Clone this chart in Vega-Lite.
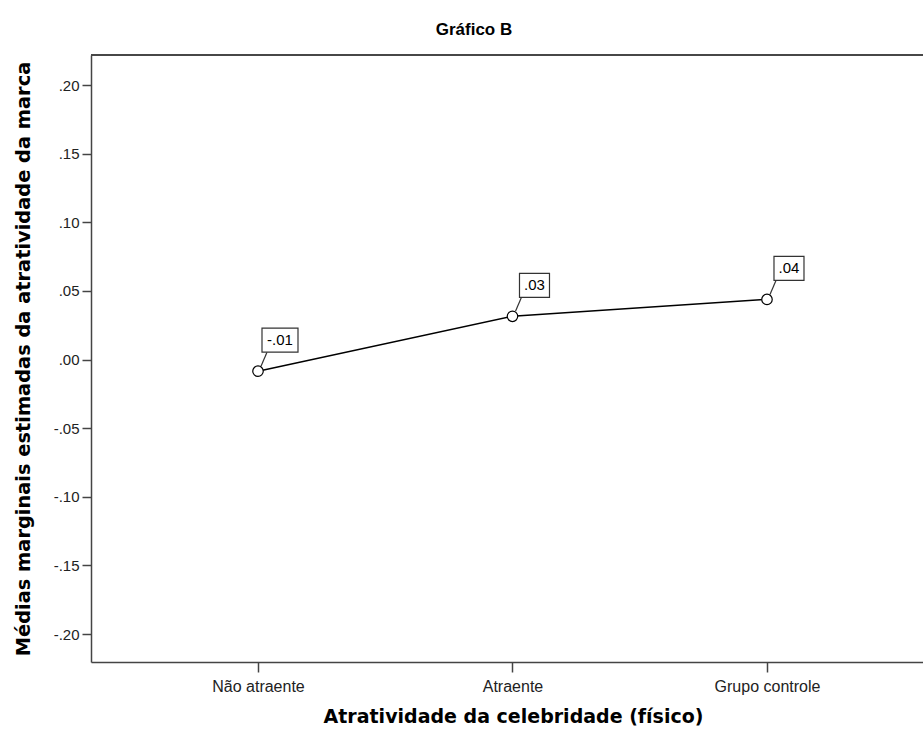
{
  "$schema": "https://vega.github.io/schema/vega-lite/v6.json",
  "autosize": "none",
  "width": 832,
  "height": 607,
  "padding": {"left": 91, "top": 55, "right": 0, "bottom": 76},
  "background": "white",
  "config": {"view": {"stroke": null}},
  "title": {
    "text": "Gráfico B",
    "font": "Liberation Sans",
    "fontSize": 17,
    "fontWeight": "bold",
    "color": "#000000",
    "anchor": "middle",
    "frame": "group",
    "dx": -33,
    "offset": 15
  },
  "data": {
    "values": [
      {"grupo": "Não atraente", "media": -0.0085, "label": "-.01"},
      {"grupo": "Atraente", "media": 0.0315, "label": ".03"},
      {"grupo": "Grupo controle", "media": 0.0438, "label": ".04"}
    ]
  },
  "encoding": {
    "x": {
      "field": "grupo",
      "type": "nominal",
      "sort": null,
      "scale": {"type": "point", "padding": 0.6346, "align": 0.517},
      "axis": {
        "title": "Atratividade da celebridade (físico)",
        "titleFont": "DejaVu Sans",
        "titleFontSize": 19,
        "titleFontWeight": "bold",
        "titleColor": "#000000",
        "titlePadding": 13,
        "titleX": 422,
        "labelFont": "Liberation Sans",
        "labelFontSize": 16,
        "labelColor": "#222222",
        "labelAngle": 0,
        "labelPadding": 6,
        "tickSize": 10,
        "tickColor": "#444444",
        "tickWidth": 1.5,
        "domainColor": "#444444",
        "domainWidth": 1.5,
        "grid": false
      }
    },
    "y": {
      "field": "media",
      "type": "quantitative",
      "scale": {"domain": [-0.2204, 0.2219], "nice": false, "zero": false},
      "axis": {
        "title": "Médias marginais estimadas da atratividade da marca",
        "titleFont": "DejaVu Sans",
        "titleFontSize": 19.4,
        "titleFontWeight": "bold",
        "titleColor": "#000000",
        "titleX": -58,
        "values": [-0.2, -0.15, -0.1, -0.05, 0, 0.05, 0.1, 0.15, 0.2],
        "labelExpr": "replace(replace(format(datum.value, '.2f'), '0.', '.'), '−', '-')",
        "labelFont": "Liberation Sans",
        "labelFontSize": 15,
        "labelColor": "#222222",
        "labelPadding": 3,
        "tickSize": 9,
        "tickColor": "#444444",
        "tickWidth": 1.5,
        "domainColor": "#444444",
        "domainWidth": 1.5,
        "grid": false
      }
    }
  },
  "layer": [
    {
      "mark": {"type": "rule", "color": "#444444", "strokeWidth": 1.5},
      "encoding": {"x": {"value": 0}, "x2": {"value": 832}, "y": {"datum": 0.2219}}
    },
    {
      "mark": {"type": "line", "color": "#000000", "strokeWidth": 1.5}
    },
    {
      "mark": {"type": "rule", "color": "#333333", "strokeWidth": 1.2, "xOffset": 3, "yOffset": -5, "x2Offset": 9, "y2Offset": -19},
      "encoding": {"x2": {"field": "grupo"}, "y2": {"field": "media"}}
    },
    {
      "mark": {"type": "point", "filled": false, "fill": "white", "fillOpacity": 1, "stroke": "#000000", "strokeWidth": 1.2, "size": 110, "shape": "circle", "opacity": 1}
    },
    {
      "mark": {"type": "point", "fill": "white", "fillOpacity": 1, "stroke": "#333333", "strokeWidth": 1.2, "size": 900, "opacity": 1, "xOffset": 22, "yOffset": -31},
      "encoding": {
        "shape": {
          "condition": {"test": "datum.label == '-.01'", "value": "M-1.2,-0.8H1.2V0.8H-1.2Z"},
          "value": "M-1,-0.8H1V0.8H-1Z"
        }
      }
    },
    {
      "mark": {"type": "text", "font": "Liberation Sans", "fontSize": 15, "color": "#000000", "baseline": "middle", "align": "center", "xOffset": 22, "yOffset": -31},
      "encoding": {"text": {"field": "label"}}
    }
  ]
}
